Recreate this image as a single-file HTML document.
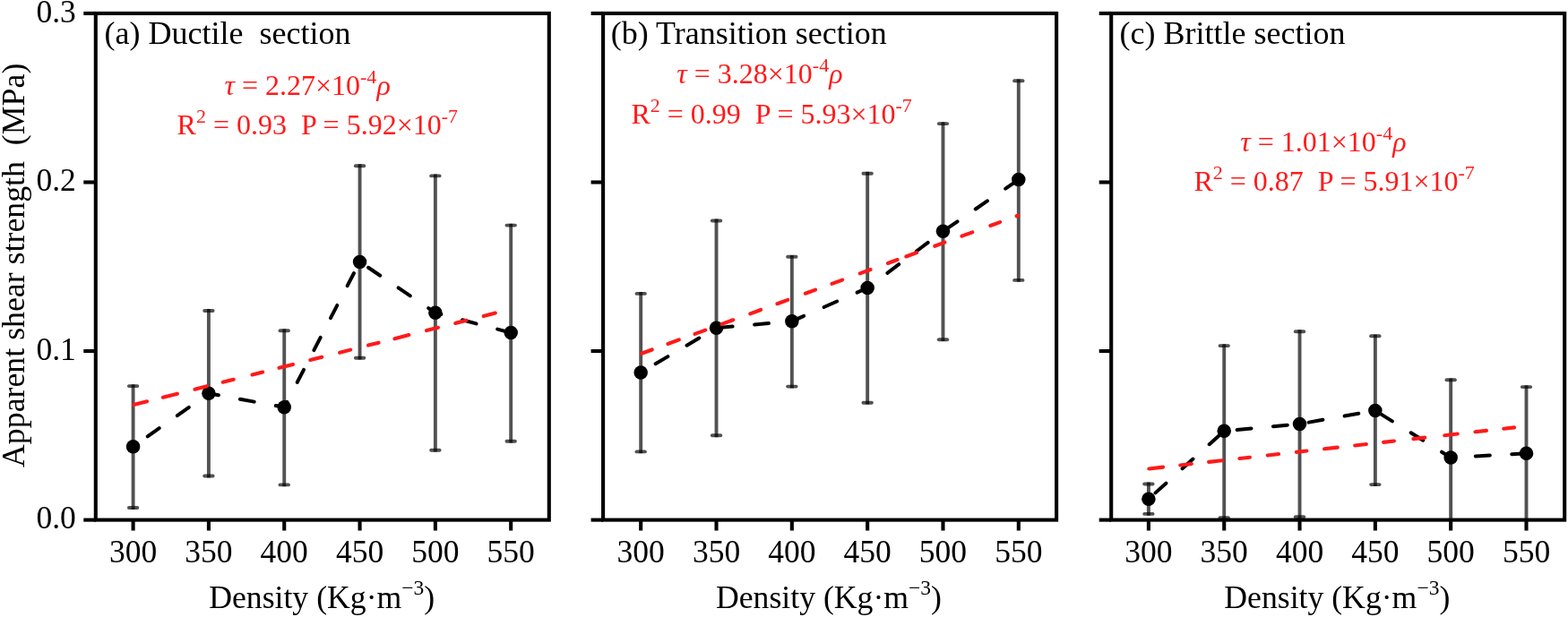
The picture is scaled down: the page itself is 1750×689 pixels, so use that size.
<!DOCTYPE html><html><head><meta charset="utf-8"><title>Apparent shear strength vs density</title>
<style>html,body{margin:0;padding:0;background:#fff;}svg{display:block;}text{font-family:'Liberation Serif', 'Times New Roman', serif;}</style></head><body>
<svg width="1750" height="689" viewBox="0 0 1750 689">
<rect width="1750" height="689" fill="#fff"/>
<g id="panel0">
<clipPath id="clip0"><rect x="106.8" y="14.95" width="506" height="565.65"/></clipPath>
<g clip-path="url(#clip0)" stroke="#000" stroke-opacity="0.68" fill="none">
<line x1="148.6" y1="429.2" x2="148.6" y2="568.9" stroke-width="3.9"/>
<line x1="143.9" y1="431.1" x2="153.3" y2="431.1" stroke-width="3.9" stroke-linecap="round"/>
<line x1="143.9" y1="567" x2="153.3" y2="567" stroke-width="3.9" stroke-linecap="round"/>
<line x1="232.92" y1="345.1" x2="232.92" y2="533.4" stroke-width="3.9"/>
<line x1="228.22" y1="347" x2="237.62" y2="347" stroke-width="3.9" stroke-linecap="round"/>
<line x1="228.22" y1="531.5" x2="237.62" y2="531.5" stroke-width="3.9" stroke-linecap="round"/>
<line x1="317.24" y1="367.3" x2="317.24" y2="543.3" stroke-width="3.9"/>
<line x1="312.54" y1="369.2" x2="321.94" y2="369.2" stroke-width="3.9" stroke-linecap="round"/>
<line x1="312.54" y1="541.4" x2="321.94" y2="541.4" stroke-width="3.9" stroke-linecap="round"/>
<line x1="401.56" y1="183.3" x2="401.56" y2="401.6" stroke-width="3.9"/>
<line x1="396.86" y1="185.2" x2="406.26" y2="185.2" stroke-width="3.9" stroke-linecap="round"/>
<line x1="396.86" y1="399.7" x2="406.26" y2="399.7" stroke-width="3.9" stroke-linecap="round"/>
<line x1="485.88" y1="194.5" x2="485.88" y2="504.6" stroke-width="3.9"/>
<line x1="481.18" y1="196.4" x2="490.58" y2="196.4" stroke-width="3.9" stroke-linecap="round"/>
<line x1="481.18" y1="502.7" x2="490.58" y2="502.7" stroke-width="3.9" stroke-linecap="round"/>
<line x1="570.2" y1="249.7" x2="570.2" y2="494.6" stroke-width="3.9"/>
<line x1="565.5" y1="251.6" x2="574.9" y2="251.6" stroke-width="3.9" stroke-linecap="round"/>
<line x1="565.5" y1="492.7" x2="574.9" y2="492.7" stroke-width="3.9" stroke-linecap="round"/>
</g>
<g fill="none" stroke="#000" stroke-width="4" stroke-linecap="round" stroke-dasharray="16 24.5">
<line x1="148.6" y1="498.8" x2="232.92" y2="439.3" stroke-dashoffset="20.8"/>
<line x1="232.92" y1="439.3" x2="317.24" y2="454.8" stroke-dashoffset="4.9"/>
<line x1="317.24" y1="454.8" x2="401.56" y2="292.4" stroke-dashoffset="9.2"/>
<line x1="401.56" y1="292.4" x2="485.88" y2="349.3" stroke-dashoffset="29.1"/>
<line x1="485.88" y1="349.3" x2="570.2" y2="371.6" stroke-dashoffset="9.3"/>
</g>
<circle cx="148.6" cy="498.8" r="7.75" fill="#000"/>
<circle cx="232.92" cy="439.3" r="7.75" fill="#000"/>
<circle cx="317.24" cy="454.8" r="7.75" fill="#000"/>
<circle cx="401.56" cy="292.4" r="7.75" fill="#000"/>
<circle cx="485.88" cy="349.3" r="7.75" fill="#000"/>
<circle cx="570.2" cy="371.6" r="7.75" fill="#000"/>
<g stroke="#ff1a1a" stroke-width="4.1" stroke-linecap="round">
<line x1="148.99" y1="452.1" x2="164.11" y2="448.26"/>
<line x1="181.89" y1="443.75" x2="197.91" y2="439.68"/>
<line x1="217.49" y1="434.71" x2="230.91" y2="431.31"/>
<line x1="248.79" y1="426.77" x2="260.71" y2="423.74"/>
<line x1="281.49" y1="418.47" x2="293.21" y2="415.49"/>
<line x1="311.49" y1="410.86" x2="327.01" y2="406.92"/>
<line x1="346.29" y1="402.02" x2="359.31" y2="398.72"/>
<line x1="379.09" y1="393.7" x2="391.21" y2="390.62"/>
<line x1="410.99" y1="385.6" x2="422.61" y2="382.65"/>
<line x1="440.39" y1="378.14" x2="456.41" y2="374.07"/>
<line x1="475.99" y1="369.11" x2="489.01" y2="365.8"/>
<line x1="508.29" y1="360.91" x2="520.41" y2="357.83"/>
<line x1="539.69" y1="352.94" x2="552.91" y2="349.58"/>
</g>
<rect x="106.8" y="14.95" width="506" height="565.65" fill="none" stroke="#000" stroke-width="4.1"/>
<line x1="93.3" y1="580.6" x2="106.8" y2="580.6" stroke="#000" stroke-width="4.1"/>
<line x1="93.3" y1="392.05" x2="106.8" y2="392.05" stroke="#000" stroke-width="4.1"/>
<line x1="93.3" y1="203.5" x2="106.8" y2="203.5" stroke="#000" stroke-width="4.1"/>
<line x1="93.3" y1="14.95" x2="106.8" y2="14.95" stroke="#000" stroke-width="4.1"/>
<line x1="148.6" y1="580.6" x2="148.6" y2="592.5" stroke="#000" stroke-width="4.1"/>
<text x="148.6" y="628.2" font-size="35.5" text-anchor="middle">300</text>
<line x1="232.92" y1="580.6" x2="232.92" y2="592.5" stroke="#000" stroke-width="4.1"/>
<text x="232.92" y="628.2" font-size="35.5" text-anchor="middle">350</text>
<line x1="317.24" y1="580.6" x2="317.24" y2="592.5" stroke="#000" stroke-width="4.1"/>
<text x="317.24" y="628.2" font-size="35.5" text-anchor="middle">400</text>
<line x1="401.56" y1="580.6" x2="401.56" y2="592.5" stroke="#000" stroke-width="4.1"/>
<text x="401.56" y="628.2" font-size="35.5" text-anchor="middle">450</text>
<line x1="485.88" y1="580.6" x2="485.88" y2="592.5" stroke="#000" stroke-width="4.1"/>
<text x="485.88" y="628.2" font-size="35.5" text-anchor="middle">500</text>
<line x1="570.2" y1="580.6" x2="570.2" y2="592.5" stroke="#000" stroke-width="4.1"/>
<text x="570.2" y="628.2" font-size="35.5" text-anchor="middle">550</text>
<text x="116.6" y="49.2" font-size="36">(a) Ductile  section</text>
<text x="250.5" y="105.8" font-size="32" fill="#ff1a1a"><tspan font-style="italic">τ</tspan> = 2.27×10<tspan dy="-13" font-size="22">-4</tspan><tspan dy="13" font-style="italic">ρ</tspan></text>
<text x="197.6" y="150.3" font-size="32" fill="#ff1a1a">R<tspan dy="-13" font-size="22">2</tspan><tspan dy="13"> = 0.93  P = 5.92×10</tspan><tspan dy="-13" font-size="22">-7</tspan></text>
<text x="233.2" y="679.2" font-size="35.7">Density (Kg·m<tspan dy="-15.5" font-size="23.5">−3</tspan><tspan dy="15.5">)</tspan></text>
</g>
<g id="panel1">
<clipPath id="clip1"><rect x="673.1" y="14.95" width="506" height="565.65"/></clipPath>
<g clip-path="url(#clip1)" stroke="#000" stroke-opacity="0.68" fill="none">
<line x1="715.2" y1="326" x2="715.2" y2="506.3" stroke-width="3.9"/>
<line x1="710.5" y1="327.9" x2="719.9" y2="327.9" stroke-width="3.9" stroke-linecap="round"/>
<line x1="710.5" y1="504.4" x2="719.9" y2="504.4" stroke-width="3.9" stroke-linecap="round"/>
<line x1="799.52" y1="244.6" x2="799.52" y2="488.2" stroke-width="3.9"/>
<line x1="794.82" y1="246.5" x2="804.22" y2="246.5" stroke-width="3.9" stroke-linecap="round"/>
<line x1="794.82" y1="486.3" x2="804.22" y2="486.3" stroke-width="3.9" stroke-linecap="round"/>
<line x1="883.84" y1="284.9" x2="883.84" y2="433.5" stroke-width="3.9"/>
<line x1="879.14" y1="286.8" x2="888.54" y2="286.8" stroke-width="3.9" stroke-linecap="round"/>
<line x1="879.14" y1="431.6" x2="888.54" y2="431.6" stroke-width="3.9" stroke-linecap="round"/>
<line x1="968.16" y1="191.8" x2="968.16" y2="451.6" stroke-width="3.9"/>
<line x1="963.46" y1="193.7" x2="972.86" y2="193.7" stroke-width="3.9" stroke-linecap="round"/>
<line x1="963.46" y1="449.7" x2="972.86" y2="449.7" stroke-width="3.9" stroke-linecap="round"/>
<line x1="1052.48" y1="136.2" x2="1052.48" y2="381.1" stroke-width="3.9"/>
<line x1="1047.78" y1="138.1" x2="1057.18" y2="138.1" stroke-width="3.9" stroke-linecap="round"/>
<line x1="1047.78" y1="379.2" x2="1057.18" y2="379.2" stroke-width="3.9" stroke-linecap="round"/>
<line x1="1136.8" y1="88.4" x2="1136.8" y2="314.8" stroke-width="3.9"/>
<line x1="1132.1" y1="90.3" x2="1141.5" y2="90.3" stroke-width="3.9" stroke-linecap="round"/>
<line x1="1132.1" y1="312.9" x2="1141.5" y2="312.9" stroke-width="3.9" stroke-linecap="round"/>
</g>
<g fill="none" stroke="#000" stroke-width="4" stroke-linecap="round" stroke-dasharray="16 24.5">
<line x1="715.2" y1="416" x2="799.52" y2="366.2" stroke-dashoffset="21.4"/>
<line x1="799.52" y1="366.2" x2="883.84" y2="358.8" stroke-dashoffset="38.33"/>
<line x1="883.84" y1="358.8" x2="968.16" y2="321.5" stroke-dashoffset="1.47"/>
<line x1="968.16" y1="321.5" x2="1052.48" y2="258.3" stroke-dashoffset="12.67"/>
<line x1="1052.48" y1="258.3" x2="1136.8" y2="200.6" stroke-dashoffset="37.05"/>
</g>
<circle cx="715.2" cy="416" r="7.75" fill="#000"/>
<circle cx="799.52" cy="366.2" r="7.75" fill="#000"/>
<circle cx="883.84" cy="358.8" r="7.75" fill="#000"/>
<circle cx="968.16" cy="321.5" r="7.75" fill="#000"/>
<circle cx="1052.48" cy="258.3" r="7.75" fill="#000"/>
<circle cx="1136.8" cy="200.6" r="7.75" fill="#000"/>
<g stroke="#ff1a1a" stroke-width="4.1" stroke-linecap="round">
<line x1="716.02" y1="394.76" x2="727.78" y2="390.46"/>
<line x1="745.42" y1="383.98" x2="757.88" y2="379.42"/>
<line x1="775.52" y1="372.94" x2="787.28" y2="368.64"/>
<line x1="805.52" y1="361.94" x2="818.28" y2="357.27"/>
<line x1="837.22" y1="350.32" x2="849.08" y2="345.97"/>
<line x1="867.42" y1="339.24" x2="879.28" y2="334.9"/>
<line x1="898.82" y1="327.73" x2="910.08" y2="323.6"/>
<line x1="928.42" y1="316.87" x2="940.18" y2="312.56"/>
<line x1="959.72" y1="305.39" x2="971.58" y2="301.05"/>
<line x1="990.92" y1="293.95" x2="1001.58" y2="290.05"/>
<line x1="1011.32" y1="286.47" x2="1023.08" y2="282.16"/>
<line x1="1043.22" y1="274.77" x2="1054.48" y2="270.65"/>
<line x1="1073.42" y1="263.7" x2="1085.28" y2="259.35"/>
<line x1="1105.32" y1="252" x2="1116.08" y2="248.06"/>
<line x1="1134.52" y1="241.29" x2="1136.28" y2="240.65"/>
</g>
<rect x="673.1" y="14.95" width="506" height="565.65" fill="none" stroke="#000" stroke-width="4.1"/>
<line x1="659.6" y1="580.6" x2="673.1" y2="580.6" stroke="#000" stroke-width="4.1"/>
<line x1="659.6" y1="392.05" x2="673.1" y2="392.05" stroke="#000" stroke-width="4.1"/>
<line x1="659.6" y1="203.5" x2="673.1" y2="203.5" stroke="#000" stroke-width="4.1"/>
<line x1="659.6" y1="14.95" x2="673.1" y2="14.95" stroke="#000" stroke-width="4.1"/>
<line x1="715.2" y1="580.6" x2="715.2" y2="592.5" stroke="#000" stroke-width="4.1"/>
<text x="715.2" y="628.2" font-size="35.5" text-anchor="middle">300</text>
<line x1="799.52" y1="580.6" x2="799.52" y2="592.5" stroke="#000" stroke-width="4.1"/>
<text x="799.52" y="628.2" font-size="35.5" text-anchor="middle">350</text>
<line x1="883.84" y1="580.6" x2="883.84" y2="592.5" stroke="#000" stroke-width="4.1"/>
<text x="883.84" y="628.2" font-size="35.5" text-anchor="middle">400</text>
<line x1="968.16" y1="580.6" x2="968.16" y2="592.5" stroke="#000" stroke-width="4.1"/>
<text x="968.16" y="628.2" font-size="35.5" text-anchor="middle">450</text>
<line x1="1052.48" y1="580.6" x2="1052.48" y2="592.5" stroke="#000" stroke-width="4.1"/>
<text x="1052.48" y="628.2" font-size="35.5" text-anchor="middle">500</text>
<line x1="1136.8" y1="580.6" x2="1136.8" y2="592.5" stroke="#000" stroke-width="4.1"/>
<text x="1136.8" y="628.2" font-size="35.5" text-anchor="middle">550</text>
<text x="681.8" y="49.2" font-size="36">(b) Transition section</text>
<text x="755.3" y="93.3" font-size="32" fill="#ff1a1a"><tspan font-style="italic">τ</tspan> = 3.28×10<tspan dy="-13" font-size="22">-4</tspan><tspan dy="13" font-style="italic">ρ</tspan></text>
<text x="704.4" y="138.3" font-size="32" fill="#ff1a1a">R<tspan dy="-13" font-size="22">2</tspan><tspan dy="13"> = 0.99  P = 5.93×10</tspan><tspan dy="-13" font-size="22">-7</tspan></text>
<text x="799" y="679.2" font-size="35.7">Density (Kg·m<tspan dy="-15.5" font-size="23.5">−3</tspan><tspan dy="15.5">)</tspan></text>
</g>
<g id="panel2">
<clipPath id="clip2"><rect x="1240.2" y="14.95" width="506" height="565.65"/></clipPath>
<g clip-path="url(#clip2)" stroke="#000" stroke-opacity="0.68" fill="none">
<line x1="1281.9" y1="538.6" x2="1281.9" y2="575.8" stroke-width="3.9"/>
<line x1="1277.2" y1="540.5" x2="1286.6" y2="540.5" stroke-width="3.9" stroke-linecap="round"/>
<line x1="1277.2" y1="573.9" x2="1286.6" y2="573.9" stroke-width="3.9" stroke-linecap="round"/>
<line x1="1366.22" y1="384.2" x2="1366.22" y2="580.2" stroke-width="3.9"/>
<line x1="1361.52" y1="386.1" x2="1370.92" y2="386.1" stroke-width="3.9" stroke-linecap="round"/>
<line x1="1361.52" y1="578.3" x2="1370.92" y2="578.3" stroke-width="3.9" stroke-linecap="round"/>
<line x1="1450.54" y1="368.3" x2="1450.54" y2="579.1" stroke-width="3.9"/>
<line x1="1445.84" y1="370.2" x2="1455.24" y2="370.2" stroke-width="3.9" stroke-linecap="round"/>
<line x1="1445.84" y1="577.2" x2="1455.24" y2="577.2" stroke-width="3.9" stroke-linecap="round"/>
<line x1="1534.86" y1="373.4" x2="1534.86" y2="543" stroke-width="3.9"/>
<line x1="1530.16" y1="375.3" x2="1539.56" y2="375.3" stroke-width="3.9" stroke-linecap="round"/>
<line x1="1530.16" y1="541.1" x2="1539.56" y2="541.1" stroke-width="3.9" stroke-linecap="round"/>
<line x1="1619.18" y1="422.4" x2="1619.18" y2="590.6" stroke-width="3.9"/>
<line x1="1614.48" y1="424.3" x2="1623.88" y2="424.3" stroke-width="3.9" stroke-linecap="round"/>
<line x1="1703.5" y1="430.2" x2="1703.5" y2="590.6" stroke-width="3.9"/>
<line x1="1698.8" y1="432.1" x2="1708.2" y2="432.1" stroke-width="3.9" stroke-linecap="round"/>
</g>
<g fill="none" stroke="#000" stroke-width="4" stroke-linecap="round" stroke-dasharray="16 24.5">
<line x1="1281.9" y1="557.2" x2="1366.22" y2="481.3" stroke-dashoffset="30.3"/>
<line x1="1366.22" y1="481.3" x2="1450.54" y2="473.4" stroke-dashoffset="26.1"/>
<line x1="1450.54" y1="473.4" x2="1534.86" y2="458.5" stroke-dashoffset="30.2"/>
<line x1="1534.86" y1="458.5" x2="1619.18" y2="511" stroke-dashoffset="34.1"/>
<line x1="1619.18" y1="511" x2="1703.5" y2="506.3" stroke-dashoffset="12.8"/>
</g>
<circle cx="1281.9" cy="557.2" r="7.75" fill="#000"/>
<circle cx="1366.22" cy="481.3" r="7.75" fill="#000"/>
<circle cx="1450.54" cy="473.4" r="7.75" fill="#000"/>
<circle cx="1534.86" cy="458.5" r="7.75" fill="#000"/>
<circle cx="1619.18" cy="511" r="7.75" fill="#000"/>
<circle cx="1703.5" cy="506.3" r="7.75" fill="#000"/>
<g stroke="#ff1a1a" stroke-width="4.1" stroke-linecap="round">
<line x1="1282.34" y1="523.42" x2="1298.06" y2="521.64"/>
<line x1="1317.24" y1="519.48" x2="1329.86" y2="518.05"/>
<line x1="1349.04" y1="515.89" x2="1363.76" y2="514.23"/>
<line x1="1383.34" y1="512.01" x2="1394.96" y2="510.7"/>
<line x1="1414.74" y1="508.47" x2="1427.06" y2="507.08"/>
<line x1="1446.84" y1="504.84" x2="1458.46" y2="503.53"/>
<line x1="1478.04" y1="501.32" x2="1492.76" y2="499.66"/>
<line x1="1512.24" y1="497.46" x2="1524.86" y2="496.03"/>
<line x1="1544.04" y1="493.87" x2="1555.96" y2="492.52"/>
<line x1="1577.34" y1="490.11" x2="1590.26" y2="488.65"/>
<line x1="1612.24" y1="486.17" x2="1626.76" y2="484.53"/>
<line x1="1646.44" y1="482.3" x2="1658.96" y2="480.89"/>
<line x1="1678.24" y1="478.71" x2="1690.06" y2="477.38"/>
</g>
<rect x="1240.2" y="14.95" width="506" height="565.65" fill="none" stroke="#000" stroke-width="4.1"/>
<line x1="1226.7" y1="580.6" x2="1240.2" y2="580.6" stroke="#000" stroke-width="4.1"/>
<line x1="1226.7" y1="392.05" x2="1240.2" y2="392.05" stroke="#000" stroke-width="4.1"/>
<line x1="1226.7" y1="203.5" x2="1240.2" y2="203.5" stroke="#000" stroke-width="4.1"/>
<line x1="1226.7" y1="14.95" x2="1240.2" y2="14.95" stroke="#000" stroke-width="4.1"/>
<line x1="1281.9" y1="580.6" x2="1281.9" y2="592.5" stroke="#000" stroke-width="4.1"/>
<text x="1281.9" y="628.2" font-size="35.5" text-anchor="middle">300</text>
<line x1="1366.22" y1="580.6" x2="1366.22" y2="592.5" stroke="#000" stroke-width="4.1"/>
<text x="1366.22" y="628.2" font-size="35.5" text-anchor="middle">350</text>
<line x1="1450.54" y1="580.6" x2="1450.54" y2="592.5" stroke="#000" stroke-width="4.1"/>
<text x="1450.54" y="628.2" font-size="35.5" text-anchor="middle">400</text>
<line x1="1534.86" y1="580.6" x2="1534.86" y2="592.5" stroke="#000" stroke-width="4.1"/>
<text x="1534.86" y="628.2" font-size="35.5" text-anchor="middle">450</text>
<line x1="1619.18" y1="580.6" x2="1619.18" y2="592.5" stroke="#000" stroke-width="4.1"/>
<text x="1619.18" y="628.2" font-size="35.5" text-anchor="middle">500</text>
<line x1="1703.5" y1="580.6" x2="1703.5" y2="592.5" stroke="#000" stroke-width="4.1"/>
<text x="1703.5" y="628.2" font-size="35.5" text-anchor="middle">550</text>
<text x="1249.5" y="49.2" font-size="36">(c) Brittle section</text>
<text x="1384.3" y="169.4" font-size="32" fill="#ff1a1a"><tspan font-style="italic">τ</tspan> = 1.01×10<tspan dy="-13" font-size="22">-4</tspan><tspan dy="13" font-style="italic">ρ</tspan></text>
<text x="1332.4" y="213.2" font-size="32" fill="#ff1a1a">R<tspan dy="-13" font-size="22">2</tspan><tspan dy="13"> = 0.87  P = 5.91×10</tspan><tspan dy="-13" font-size="22">-7</tspan></text>
<text x="1366.3" y="679.2" font-size="35.7">Density (Kg·m<tspan dy="-15.5" font-size="23.5">−3</tspan><tspan dy="15.5">)</tspan></text>
</g>
<text x="84.8" y="590.3" font-size="35.5" text-anchor="end">0.0</text>
<text x="84.8" y="401.75" font-size="35.5" text-anchor="end">0.1</text>
<text x="84.8" y="213.2" font-size="35.5" text-anchor="end">0.2</text>
<text x="84.8" y="24.65" font-size="35.5" text-anchor="end">0.3</text>
<text transform="translate(26.9,522) rotate(-90)" font-size="35.8">Apparent shear strength  (MPa)</text>
</svg></body></html>
